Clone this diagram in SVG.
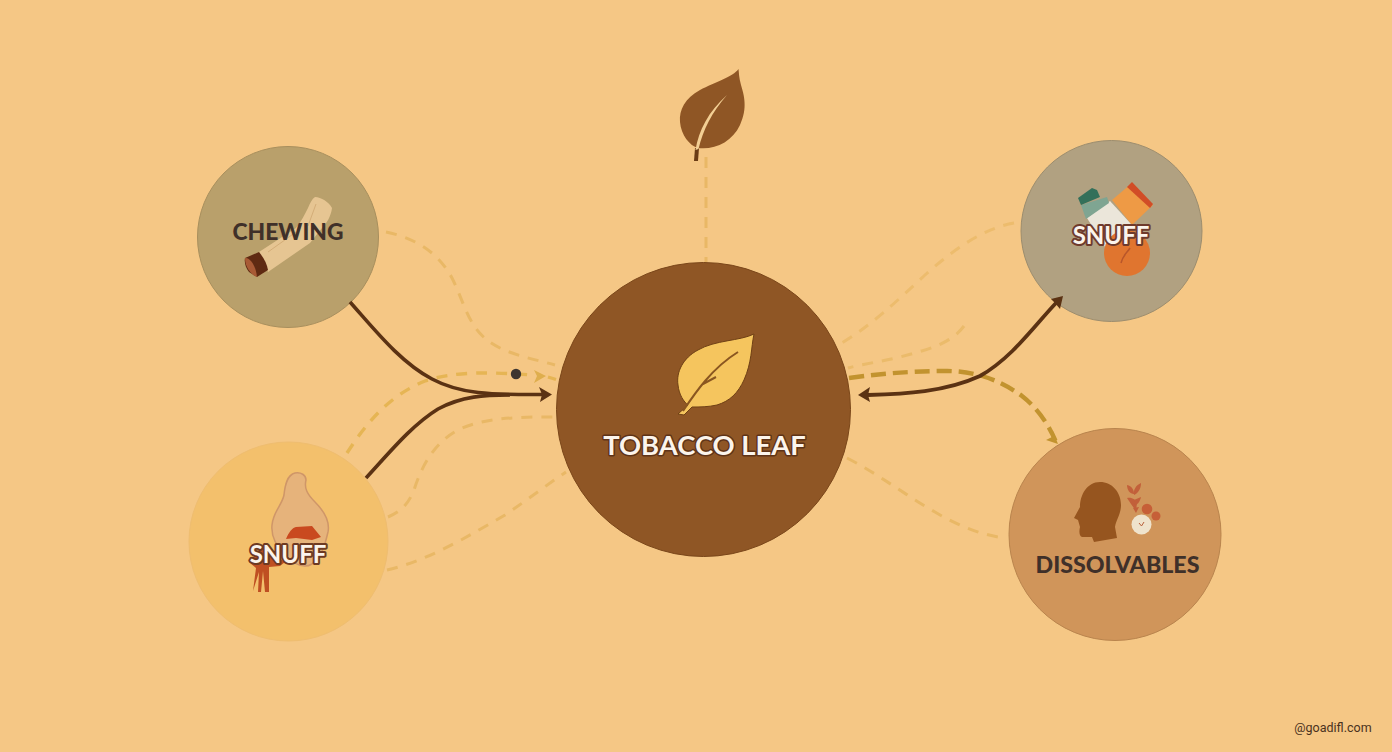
<svg xmlns="http://www.w3.org/2000/svg" width="1392" height="752" viewBox="0 0 1392 752">
<defs>
<style>
.dk{font-family:"Lato","Liberation Sans",sans-serif;font-weight:900;fill:#3f3029;text-anchor:middle}
.wt{font-family:"Lato","Liberation Sans",sans-serif;font-weight:700;fill:#fbf4ec;text-anchor:middle;paint-order:stroke;stroke-linejoin:round}
.lt{fill:none;stroke:#e9b866;stroke-width:3;stroke-dasharray:11 9}
.solid{fill:none;stroke:#5b3213;stroke-width:3.6;stroke-linecap:butt}
.gold{fill:none;stroke:#c2932f;stroke-width:4.4;stroke-dasharray:15 7}
</style>
</defs>
<rect width="1392" height="752" fill="#f5c785"/>
<g id="node-chewing">
<circle cx="288" cy="237" r="90.500" fill="#b9a06b" stroke="#a88f5d" stroke-width="1"/>
<path d="M315 197C321 197 329 202 332 208C331 216 327 223 322 228L310 243L268 272L259 252L296 228C301 222 305 214 308 208C310 203 312 199 315 197Z" fill="#e6c592"/>
<path d="M296 232L268 252M316 204L308 226" fill="none" stroke="#d4ad78" stroke-width="1"/>
<path d="M245 258L259 252C264 258 267 264 268 270L257 277L249 272C246 268 244 263 245 258Z" fill="#5f2a12"/>
<path d="M245 258C250 257 256 266 257 277C251 275 245 267 245 258Z" fill="#a85a35"/>
<text class="dk" x="288" y="240" font-size="22.800">CHEWING</text>
</g>
<g id="node-snuff-left">
<circle cx="288.500" cy="541.500" r="99.500" fill="#f3c06c" stroke="#efbd70" stroke-width="1"/>
<path d="M253 591L256 568L249 562L262 547L285 562L280 566L269 567L269 592L265 592L263 571L261 592L258 592L259 572Z" fill="#bf4f22"/>
<path d="M295 473C301 472 306 475 306 480C304 488 307 494 315 502C325 512 330 522 328 532C325 545 322 556 312 564C304 569 295 565 285 555C276 546 271 535 272 525C273 512 282 505 284 495C285 485 287 475 295 473Z" fill="#e6b37b" stroke="#cf9668" stroke-width="1.500"/>
<path d="M286 539C289 532 292 528 296 527L312 526L321 537L312 540L296 538Z" fill="#c9491f"/>
<text class="wt" x="288" y="563" font-size="24" stroke="#6e3a22" stroke-width="4">SNUFF</text>
</g>
<g id="node-snuff-right">
<circle cx="1111.500" cy="231" r="90.500" fill="#b1a181" stroke="#9c8d6e" stroke-width="1"/>
<path d="M1087 218L1110 201L1132 225L1107 250Z" fill="#ebe6da"/>
<path d="M1081 205L1107 197L1109 203L1086 219Z" fill="#7fa592"/>
<path d="M1078 198L1092 188L1097 190L1100 197L1081 205Z" fill="#33705a"/>
<path d="M1112 200L1132 183L1153 205L1132 225Z" fill="#ee9a45"/>
<path d="M1127 187L1132 182L1153 204L1150 208Z" fill="#d14d27"/>
<circle cx="1127" cy="253" r="23" fill="#e0752f"/>
<path d="M1121 263C1123 255 1127 253 1130 248" fill="none" stroke="#b8562a" stroke-width="1.500"/>
<text class="wt" x="1111" y="244" font-size="24" stroke="#6e3a2c" stroke-width="4">SNUFF</text>
</g>
<g id="node-dissolvables">
<circle cx="1115" cy="534.500" r="106" fill="#d0955a" stroke="#b9844d" stroke-width="1"/>
<path d="M1100 482C1112 482 1121 492 1121 505C1121 514 1116 520 1115 527L1117 538L1094 542L1092 537L1082 537C1079 536 1079 531 1080 527L1078 520L1074 518L1080 507C1080 495 1087 482 1100 482Z" fill="#96551f"/>
<g fill="#c2603a">
<path d="M1127 485C1132 486 1134 490 1134 494C1130 494 1127 490 1127 485Z"/>
<path d="M1141 483C1141 489 1138 493 1134 495C1133 490 1136 485 1141 483Z"/>
<path d="M1127 498C1132 497 1136 500 1137 503L1136 511L1131 504Z"/>
<path d="M1141 497C1140 502 1137 505 1135 505L1134 500Z"/>
<path d="M1133 508L1139 507L1136 513Z"/>
</g>
<circle cx="1147" cy="509" r="5.300" fill="#c65f37"/>
<circle cx="1156" cy="516" r="4.500" fill="#c65f37"/>
<circle cx="1141.500" cy="524.500" r="10" fill="#efe3cc"/>
<path d="M1139 523L1141.500 526L1144 522" fill="none" stroke="#b8603a" stroke-width="1"/>
<text class="dk" x="1117.500" y="573" font-size="23.200">DISSOLVABLES</text>
</g>
<g id="node-leaf-top">
<path d="M738.500 69C733 77 715 82 700 90C685 98 679 110 680 122C681 135 690 146 698 148C715 150 732 142 740 125C748 108 744 95 741 85C739 78 739 73 738.500 69Z" fill="#8f5625"/>
<path d="M694 161L695 148L699 148L698 161Z" fill="#6b3c15"/>
<path d="M695.500 150C699 130 708 112 727 95C712 112 703 130 698.500 149Z" fill="#f3cf94"/>
</g>
<g id="node-tobacco-leaf">
<circle cx="703.500" cy="409.500" r="147" fill="#8f5625" stroke="#7a4619" stroke-width="1"/>
<path d="M754 334C740 341 715 340 698 350C683 358 676 372 678 385C679 395 684 402 688 405L678 414L684 415L692 407C700 407 708 407 717 405C730 401 738 393 744 380C752 362 751 348 754 334Z" fill="#f5c55e" stroke="#6f4015" stroke-width="1"/>
<path d="M683 411C695 393 712 368 738 352M703 384L716 377" fill="none" stroke="#8a5620" stroke-width="2"/>
<text class="wt" x="704.500" y="455" font-size="27.400" stroke="#5e3318" stroke-width="3">TOBACCO LEAF</text>
</g>
<g id="connectors">
<path class="lt" d="M386 232C415 238 438 252 452 278C464 302 468 325 487 340C505 354 530 358 555 365"/>
<path class="lt" style="stroke:#e6b554;stroke-width:3.4" d="M347 453C365 425 388 396 425 381C455 371 490 372 532 375"/>
<path d="M534 370L546 376L534 383L537 376Z" fill="#dfae4d"/>
<path d="M548 377L556 379.500" fill="none" stroke="#e6b554" stroke-width="3.4"/>
<path class="lt" d="M388 517C400 512 408 505 414 490C422 465 435 442 458 430C485 417 520 417 553 417"/>
<path class="lt" d="M387 570C430 560 470 535 505 515C530 498 548 484 566 472"/>
<path class="lt" d="M706 157V262"/>
<path class="lt" style="opacity:.75" d="M1014 223C985 228 955 248 925 275C895 303 868 328 840 344"/>
<path class="lt" style="opacity:.85" d="M964 326C950 345 925 350 900 357C880 362 862 364 848 368"/>
<path class="lt" d="M847 458C880 475 905 495 935 512C960 527 985 536 1006 538"/>
<path class="solid" d="M350 302C375 330 400 362 432 379C460 394 490 395 543 394.500"/>
<path class="solid" d="M366 478C390 452 412 425 438 409C462 396 485 395 510 395"/>
<path d="M552 394.500L539 387L542 394.500L540 402Z" fill="#5b3213"/>
<path class="gold" d="M849 378C885 373 915 371 947 371C975 371 1000 380 1022 396C1040 410 1050 428 1056 442"/>
<path d="M1058 444L1046 440L1052 437L1053 431Z" fill="#c2932f"/>
<path class="solid" style="stroke-width:3.8" d="M868 395C905 394 945 392 980 376C1012 358 1035 325 1056 303"/>
<path d="M858 395L870 387L868 395L870 402Z" fill="#5b3213"/>
<path d="M1063 296L1060 309L1055 303L1051 299Z" fill="#5b3213"/>
<circle cx="516" cy="374" r="5.200" fill="#3d3530"/>
</g>
<text x="1333" y="732" font-family="Roboto,'Liberation Sans',sans-serif" font-size="12.500" fill="#4a3220" text-anchor="middle">@goadifl.com</text>
</svg>
